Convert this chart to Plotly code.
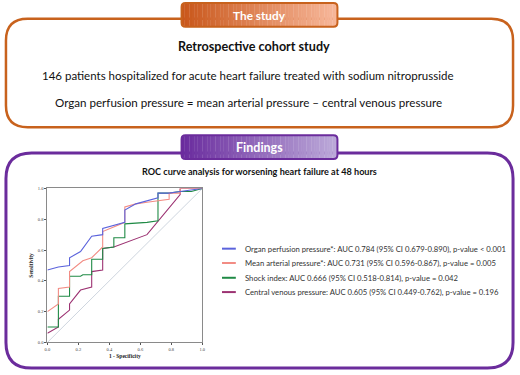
import math
import plotly.graph_objects as go

W, H = 520, 375

# ---------------- data ----------------
series_names = [
    "Organ perfusion pressure",
    "Mean arterial pressure",
    "Shock index",
    "Central venous pressure",
]
legend_labels = [
    "Organ perfusion pressure*: AUC 0.784 (95% CI 0.679-0.890), p-value < 0.001",
    "Mean arterial pressure*: AUC 0.731 (95% CI 0.596-0.867), p-value = 0.005",
    "Shock index: AUC 0.666 (95% CI 0.518-0.814), p-value = 0.042",
    "Central venous pressure: AUC 0.605 (95% CI 0.449-0.762), p-value = 0.196",
]
opp_fpr = [0, 0.071, 0.143, 0.143, 0.214, 0.286, 0.357, 0.357, 0.5, 0.5, 0.571, 0.643, 0.714, 0.714, 0.786, 0.857, 0.929, 1.0]
opp_tpr = [0.47, 0.49, 0.50, 0.55, 0.59, 0.69, 0.70, 0.74, 0.78, 0.86, 0.90, 0.92, 0.94, 0.97, 0.97, 0.98, 0.99, 1.0]

map_fpr = [0, 0.071, 0.071, 0.143, 0.143, 0.214, 0.229, 0.286, 0.357, 0.357, 0.5, 0.5, 0.571, 0.643, 0.786, 0.786, 0.857, 0.857, 0.929, 1.0]
map_tpr = [0.20, 0.25, 0.35, 0.36, 0.46, 0.52, 0.53, 0.55, 0.62, 0.72, 0.78, 0.88, 0.90, 0.91, 0.93, 0.97, 0.97, 1.0, 1.0, 1.0]

si_fpr = [0, 0.071, 0.071, 0.143, 0.143, 0.214, 0.229, 0.286, 0.286, 0.357, 0.357, 0.429, 0.429, 0.5, 0.5, 0.643, 0.714, 0.714, 0.786, 0.857, 0.929, 1.0]
si_tpr = [0.10, 0.10, 0.30, 0.30, 0.43, 0.43, 0.44, 0.44, 0.54, 0.54, 0.61, 0.62, 0.68, 0.68, 0.77, 0.78, 0.79, 0.97, 0.97, 0.98, 0.98, 1.0]

cvp_fpr = [0, 0.071, 0.071, 0.143, 0.143, 0.214, 0.286, 0.286, 0.357, 0.357, 0.429, 0.643, 0.857, 0.857, 1.0]
cvp_tpr = [0.06, 0.10, 0.15, 0.21, 0.25, 0.34, 0.36, 0.46, 0.47, 0.61, 0.62, 0.70, 0.96, 1.0, 1.0]

ref_line = [0, 1]
tick_vals = [0, 0.2, 0.4, 0.6, 0.8, 1.0]
tick_text = ["0.0", "0.2", "0.4", "0.6", "0.8", "1.0"]

colors = ["#5b63dc", "#f28c84", "#1f8a45", "#9c3272"]

# ---------------- helpers ----------------
def X(p):
    return p / W

def Y(p):
    return 1 - p / H

def rrect_path(x0, y0, x1, y1, r):
    pts = [
        f"M {X(x0 + r)},{Y(y0)}",
        f"L {X(x1 - r)},{Y(y0)}",
        f"Q {X(x1)},{Y(y0)} {X(x1)},{Y(y0 + r)}",
        f"L {X(x1)},{Y(y1 - r)}",
        f"Q {X(x1)},{Y(y1)} {X(x1 - r)},{Y(y1)}",
        f"L {X(x0 + r)},{Y(y1)}",
        f"Q {X(x0)},{Y(y1)} {X(x0)},{Y(y1 - r)}",
        f"L {X(x0)},{Y(y0 + r)}",
        f"Q {X(x0)},{Y(y0)} {X(x0 + r)},{Y(y0)}",
        "Z",
    ]
    return " ".join(pts)

def hex2rgb(h):
    h = h.lstrip("#")
    return tuple(int(h[i:i + 2], 16) for i in (0, 2, 4))

def mix(c1, c2, t):
    a, b = hex2rgb(c1), hex2rgb(c2)
    return "rgb(%d,%d,%d)" % tuple(round(a[i] + (b[i] - a[i]) * t) for i in range(3))

shapes = []

def gradient_tab(x0, y0, x1, y1, r, cl, cr, border):
    n = 60
    w = (x1 - x0) / n
    for i in range(n):
        sx0 = x0 + i * w
        sx1 = sx0 + w + 0.3
        cx = sx0 + w / 2
        inset = 0
        d = min(cx - x0, x1 - cx)
        if d < r:
            inset = r - math.sqrt(max(r * r - (r - d) ** 2, 0))
        shapes.append(dict(type="rect", xref="paper", yref="paper",
                           x0=X(sx0), x1=X(min(sx1, x1)), y0=Y(y0 + inset), y1=Y(y1 - inset),
                           fillcolor=mix(cl, cr, i / (n - 1)), line=dict(width=0), layer="above"))
    shapes.append(dict(type="path", xref="paper", yref="paper", path=rrect_path(x0, y0, x1, y1, r),
                       line=dict(color=border, width=2), fillcolor="rgba(0,0,0,0)", layer="above"))

# Study box
shapes.append(dict(type="path", xref="paper", yref="paper", path=rrect_path(3, 17, 517, 127, 22),
                   line=dict(color="#c8621d", width=2.5), fillcolor="white", layer="below"))
gradient_tab(181, 1, 339, 25, 4, "#c9571b", "#f7b79a", "#c8621d")

# Findings box
shapes.append(dict(type="path", xref="paper", yref="paper", path=rrect_path(3, 153, 517, 371, 26),
                   line=dict(color="#6b2c9c", width=3), fillcolor="white", layer="below"))
gradient_tab(181, 135, 339, 159, 4, "#6a2c9e", "#bcaad9", "#6b2c9c")

# legend line samples
legend_rows = [250, 264.5, 279.5, 294]
for c, ry in zip(colors, legend_rows):
    shapes.append(dict(type="line", xref="paper", yref="paper", x0=X(222), x1=X(236), y0=Y(ry), y1=Y(ry),
                       line=dict(color=c, width=2), layer="above"))

FONT = "Lato, 'Open Sans', sans-serif"
annotations = [
    dict(text="<b>The study</b>", x=X(260), y=Y(14), font=dict(size=11.8, color="white", family=FONT)),
    dict(text="<b>Retrospective cohort study</b>", x=X(254), y=Y(45), font=dict(size=12.6, color="#111", family=FONT)),
    dict(text="146 patients hospitalized for acute heart failure treated with sodium nitroprusside",
         x=X(248), y=Y(74), font=dict(size=11.5, color="#111", family=FONT)),
    dict(text="Organ perfusion pressure = mean arterial pressure \u2013 central venous pressure",
         x=X(248.5), y=Y(102), font=dict(size=11.6, color="#111", family=FONT)),
    dict(text="<b>Findings</b>", x=X(260), y=Y(147.5), font=dict(size=12.5, color="white", family=FONT)),
    dict(text="<b>ROC curve analysis for worsening heart failure at 48 hours</b>",
         x=X(260), y=Y(172), font=dict(size=9.1, color="#111", family=FONT)),
]
for a in annotations:
    a.update(xref="paper", yref="paper", showarrow=False, xanchor="center", yanchor="middle")
for lab, ry in zip(legend_labels, legend_rows):
    annotations.append(dict(text=lab, x=X(243), y=Y(ry), xref="paper", yref="paper", showarrow=False,
                            xanchor="left", yanchor="middle", font=dict(size=7.7, color="#333", family=FONT)))

fig = go.Figure()
fig.add_trace(go.Scatter(x=ref_line, y=ref_line, mode="lines", line=dict(color="#b9c3d0", width=0.7),
                         showlegend=False, hoverinfo="skip"))
for name, fx, ty, c in [
    (series_names[3], cvp_fpr, cvp_tpr, colors[3]),
    (series_names[2], si_fpr, si_tpr, colors[2]),
    (series_names[1], map_fpr, map_tpr, colors[1]),
    (series_names[0], opp_fpr, opp_tpr, colors[0]),
]:
    fig.add_trace(go.Scatter(x=fx, y=ty, mode="lines", name=name, line=dict(color=c, width=1.1),
                             showlegend=False))

axis_common = dict(range=[0, 1], tickvals=tick_vals, ticktext=tick_text, showgrid=False, zeroline=False,
                   showline=True, linecolor="#8a8a8a", linewidth=1, mirror=True, ticks="outside",
                   ticklen=2, tickcolor="#555", tickfont=dict(size=4.5, color="#444", family="Liberation Serif"))

fig.update_layout(
    width=W, height=H, margin=dict(l=0, r=0, t=0, b=0),
    paper_bgcolor="white", plot_bgcolor="#eef4fb",
    shapes=shapes, annotations=annotations, showlegend=False,
    xaxis=dict(domain=[X(45), X(202)], **axis_common,
               title=dict(text="<b>1 - Specificity</b>", standoff=3,
                          font=dict(size=5.5, color="#222", family="Liberation Serif"))),
    yaxis=dict(domain=[Y(345), Y(189)], **axis_common,
               title=dict(text="<b>Sensitivity</b>", standoff=3,
                          font=dict(size=5.5, color="#222", family="Liberation Serif"))),
)

fig.write_html("out.html", config={"displayModeBar": False},
               post_script="document.body.style.margin='0px';document.body.style.overflow='hidden';")
